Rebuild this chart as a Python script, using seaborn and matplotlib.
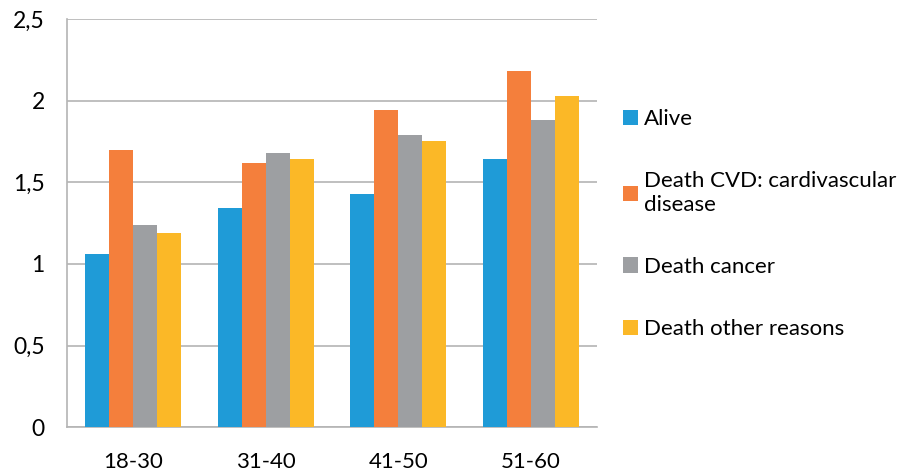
"""Grouped bars by age group and outcome (Excel-style look)."""

import matplotlib.pyplot as plt
import pandas as pd
import seaborn as sns

AGE_GROUPS = ["18-30", "31-40", "41-50", "51-60"]
SERIES = [
    "Alive",
    "Death CVD: cardivascular\ndisease",
    "Death cancer",
    "Death other reasons",
]
ALIVE = [1.06, 1.34, 1.43, 1.64]
DEATH_CVD = [1.70, 1.62, 1.945, 2.18]
DEATH_CANCER = [1.24, 1.68, 1.79, 1.88]
DEATH_OTHER = [1.19, 1.64, 1.755, 2.03]

Y_TICKS = [0, 0.5, 1, 1.5, 2, 2.5]
Y_TICK_LABELS = ["0", "0,5", "1", "1,5", "2", "2,5"]

COLORS = ["#1f9bd7", "#f47f3c", "#9d9fa2", "#fbb827"]
GRID = "#b4b4b4"


def main() -> None:
    sns.set_theme(style="white")
    plt.rcParams["font.family"] = ["Lato", "DejaVu Sans"]
    plt.rcParams["text.color"] = "black"
    plt.rcParams["xtick.labelcolor"] = "black"
    plt.rcParams["ytick.labelcolor"] = "black"

    rows = []
    for name, vals in zip(SERIES, [ALIVE, DEATH_CVD, DEATH_CANCER, DEATH_OTHER]):
        for age, v in zip(AGE_GROUPS, vals):
            rows.append({"age": age, "value": v, "series": name})
    df = pd.DataFrame(rows)

    fig = plt.figure(figsize=(9.05, 4.72), dpi=100)
    ax = fig.add_axes([0.074, 0.095, 0.586, 0.865])

    sns.barplot(
        data=df,
        x="age",
        y="value",
        hue="series",
        hue_order=SERIES,
        order=AGE_GROUPS,
        palette=COLORS,
        width=0.725,
        saturation=1,
        errorbar=None,
        ax=ax,
        zorder=3,
    )
    for p in ax.patches:
        p.set_linewidth(0)

    ax.set_ylim(0, 2.5)
    ax.set_xlim(-0.5, 3.5)
    ax.set_yticks(Y_TICKS)
    ax.set_yticklabels(Y_TICK_LABELS, fontsize=16.5)
    ax.yaxis.grid(True, color=GRID, linewidth=1.2, zorder=0)
    ax.set_axisbelow(True)
    ax.tick_params(axis="y", length=6, color=GRID, width=1.2, pad=10)
    ax.tick_params(axis="x", which="major", length=0, labelsize=16, pad=18)
    ax.set_xticks([-0.5, 0.5, 1.5, 2.5, 3.5], minor=True)
    ax.tick_params(axis="x", which="minor", length=6, color=GRID, width=1.2)
    ax.set_xlabel("")
    ax.set_ylabel("")

    for side in ["top", "right"]:
        ax.spines[side].set_visible(False)
    for side in ["left", "bottom"]:
        ax.spines[side].set_color(GRID)
        ax.spines[side].set_linewidth(1.2)

    handles, labels = ax.get_legend_handles_labels()
    ax.legend(
        handles,
        labels,
        loc="center left",
        bbox_to_anchor=(0.666, 0.525),
        bbox_transform=fig.transFigure,
        frameon=False,
        fontsize=16,
        handlelength=0.68,
        handleheight=0.68,
        handletextpad=0.27,
        labelspacing=1.9,
    )

    fig.savefig("out.png", dpi=100)


if __name__ == "__main__":
    main()
